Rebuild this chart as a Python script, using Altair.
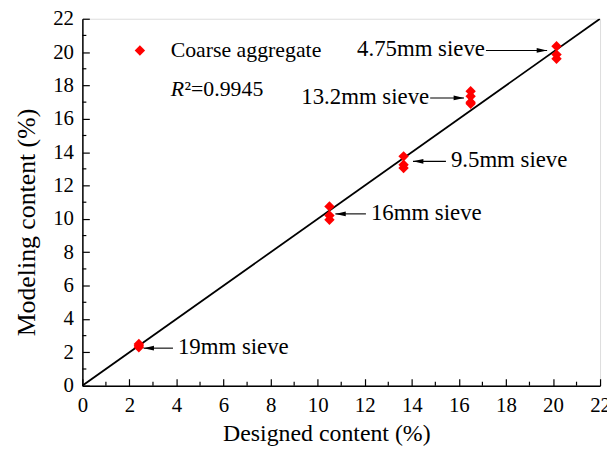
import altair as alt
import pandas as pd

# ---- data ----
designed = [2.4, 2.4, 2.4,
            10.5, 10.5, 10.5,
            13.65, 13.65, 13.65,
            16.5, 16.5, 16.5, 16.5,
            20.15, 20.15, 20.15]
modeling = [2.5, 2.4, 2.3,
            10.75, 10.2, 9.95,
            13.75, 13.25, 13.05,
            17.65, 17.35, 17.0, 16.9,
            20.35, 19.85, 19.6]

sieves = ["4.75mm sieve", "13.2mm sieve", "9.5mm sieve", "16mm sieve", "19mm sieve"]
arrow_y = [20.1, 17.25, 13.45, 10.3, 2.25]
arrow_tail = [17.15, 14.78, 15.45, 12.05, 3.85]
arrow_tip = [19.75, 16.22, 14.05, 10.75, 2.6]
label_side = ["left", "left", "right", "right", "right"]

major_ticks = list(range(0, 23, 2))
minor_ticks = list(range(1, 22, 2))

FONT = "Liberation Serif, Times New Roman, serif"

pts = pd.DataFrame({"designed": designed, "modeling": modeling})
ann = pd.DataFrame({"label": sieves, "y": arrow_y, "tail": arrow_tail,
                    "tip": arrow_tip, "side": label_side})
ann["dir"] = ["r" if s == "left" else "l" for s in label_side]
diag = pd.DataFrame({"x": [0, 22], "y": [0, 22]})
minor_df = pd.DataFrame({"v": minor_ticks})
one = pd.DataFrame({"k": [0]})

xscale = alt.Scale(domain=[0, 22], nice=False, zero=False)
yscale = alt.Scale(domain=[0, 22], nice=False, zero=False)

common = dict(tickSize={"expr": "-7"}, tickColor="black", tickWidth=1.2,
              tickCount=50, format="d",
              domainColor="black", domainWidth=1.5,
              labelFont=FONT, labelFontSize=21, labelColor="black",
              labelPadding=16, grid=False,
              titleFont=FONT, titleFontWeight="normal", titleColor="black",
              labelFlush=False, labelOverlap=False,
              titleBaseline="middle", titleAlign="center")

xaxis = alt.Axis(values=major_ticks, title="Designed content (%)",
                 titleFontSize=24, titleX=246, titleY=48, **common)
yaxis = alt.Axis(values=major_ticks, title="Modeling content (%)",
                 titleFontSize=26, titleX=-56, titleY=205, titleAngle=270, **common)

line = alt.Chart(diag).mark_line(color="black", strokeWidth=1.8, clip=True).encode(
    x=alt.X("x:Q", scale=xscale, axis=xaxis),
    y=alt.Y("y:Q", scale=yscale, axis=yaxis),
)

minor_x = alt.Chart(minor_df).mark_rule(color="black", strokeWidth=1.2).encode(
    x="v:Q", y=alt.value(370), y2=alt.value(366))
minor_y = alt.Chart(minor_df).mark_rule(color="black", strokeWidth=1.2).encode(
    y="v:Q", x=alt.value(0), x2=alt.value(4))

points = alt.Chart(pts).mark_point(shape="diamond", filled=True, color="#ff0000",
                                   size=110, opacity=1, strokeWidth=0).encode(
    x="designed:Q", y="modeling:Q")

shafts = alt.Chart(ann).mark_rule(color="black", strokeWidth=1.1).encode(
    x="tail:Q", x2="tip:Q", y="y:Q")

heads = alt.Chart(ann).mark_point(filled=True, color="black", opacity=1, size=110,
                                  strokeWidth=0).encode(
    x="tip:Q", y="y:Q",
    shape=alt.Shape("dir:N", scale=alt.Scale(
        domain=["r", "l"],
        range=["M0,0L-2,-0.45L-2,0.45Z", "M0,0L2,-0.45L2,0.45Z"]), legend=None))

left_labels = alt.Chart(ann).transform_filter("datum.side === 'left'").mark_text(
    align="right", baseline="middle", font=FONT, fontSize=23, color="black", dx=-1, dy=-1
).encode(x="tail:Q", y="y:Q", text="label:N")

right_labels = alt.Chart(ann).transform_filter("datum.side === 'right'").mark_text(
    align="left", baseline="middle", font=FONT, fontSize=23, color="black", dx=5, dy=-1
).encode(x="tail:Q", y="y:Q", text="label:N")

legend_sym = alt.Chart(one).mark_point(shape="diamond", filled=True, color="#ff0000",
                                       size=110, opacity=1, strokeWidth=0).encode(
    x=alt.value(58), y=alt.value(32))
legend_txt = alt.Chart(one).mark_text(align="left", baseline="middle", font=FONT,
                                      fontSize=22, color="black").encode(
    x=alt.value(89), y=alt.value(32), text=alt.value("Coarse aggregate"))
r_txt = alt.Chart(one).mark_text(align="left", baseline="middle", font=FONT,
                                 fontSize=22, fontStyle="italic", color="black").encode(
    x=alt.value(89), y=alt.value(71), text=alt.value("R"))
r_val = alt.Chart(one).mark_text(align="left", baseline="middle", font=FONT,
                                 fontSize=22, color="black").encode(
    x=alt.value(103), y=alt.value(71), text=alt.value("²=0.9945"))

chart = alt.layer(line, minor_x, minor_y, points, shafts, heads, left_labels,
                  right_labels, legend_sym, legend_txt, r_txt, r_val).properties(
    width=522, height=370,
    autosize=alt.AutoSizeParams(type="none"),
    padding={"left": 75, "top": 9, "right": 7, "bottom": 59},
).configure_view(stroke="black", strokeWidth=1.5).configure(background="white")

chart.save("out.html", embed_options={"renderer": "svg", "actions": False})
